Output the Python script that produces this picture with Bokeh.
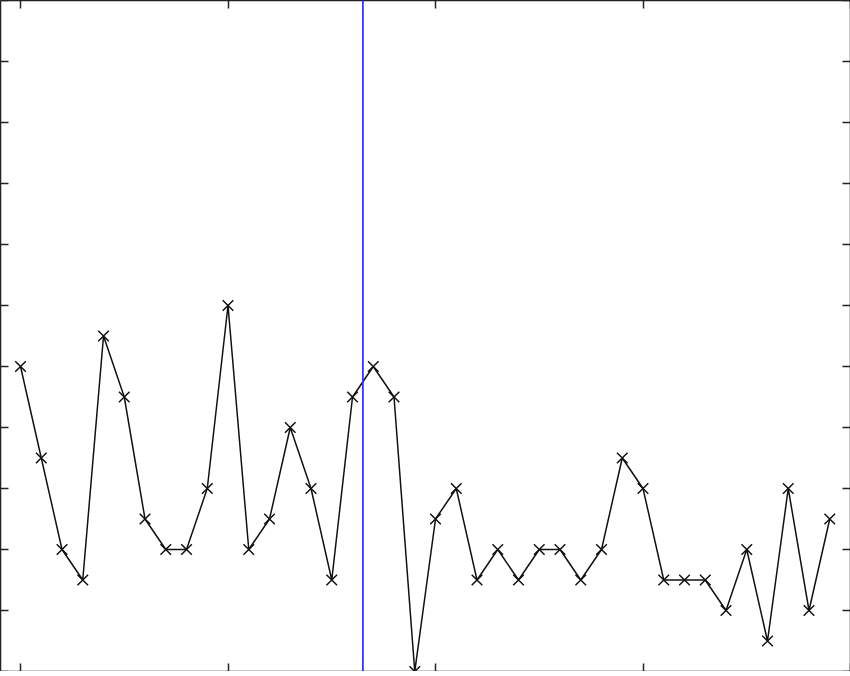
from bokeh.plotting import figure
from bokeh.models import LinearAxis, FixedTicker, Range1d, Span
from bokeh.embed import file_html
from bokeh.resources import INLINE

xs = list(range(40))
ys = [10, 7, 4, 3, 11, 9, 5, 4, 4, 6, 12, 4, 5, 8, 6, 3, 9, 10, 9, 0,
      5, 6, 3, 4, 3, 4, 4, 3, 4, 7, 6, 3, 3, 3, 2, 4, 1, 6, 2, 5]
marker_x = 16.5
x_ticks = [0, 10, 20, 30, 40]
y_ticks = [0, 2, 4, 6, 8, 10, 12, 14, 16, 18, 20, 22]

p = figure(width=850, height=671, output_backend="svg", toolbar_location=None,
           x_axis_location=None, y_axis_location=None, min_border=0,
           x_range=Range1d(-0.965, 40.0), y_range=Range1d(0, 22.0))
p.grid.visible = False
p.outline_line_color = None
p.background_fill_color = "white"
p.border_fill_color = "white"

for loc, ticks in (("left", y_ticks), ("right", y_ticks), ("below", x_ticks), ("above", x_ticks)):
    ax = LinearAxis(ticker=FixedTicker(ticks=ticks))
    ax.major_label_overrides = {t: "" for t in ticks}
    ax.major_label_standoff = 0
    ax.major_label_text_font_size = "1px"
    ax.major_tick_in = 8
    ax.major_tick_out = 0
    ax.minor_tick_line_color = None
    ax.axis_line_color = "#222222"
    ax.axis_line_width = 1.5
    ax.major_tick_line_color = "#222222"
    ax.major_tick_line_width = 1.5
    p.add_layout(ax, loc)

p.line(xs, ys, line_color="#111111", line_width=1.5)
p.scatter(xs, ys, marker="x", size=15, line_color="#111111", line_width=1.5)
p.add_layout(Span(location=marker_x, dimension="height", line_color="#3333ff", line_width=1.8))

open("out.html", "w").write(file_html(p, INLINE))
